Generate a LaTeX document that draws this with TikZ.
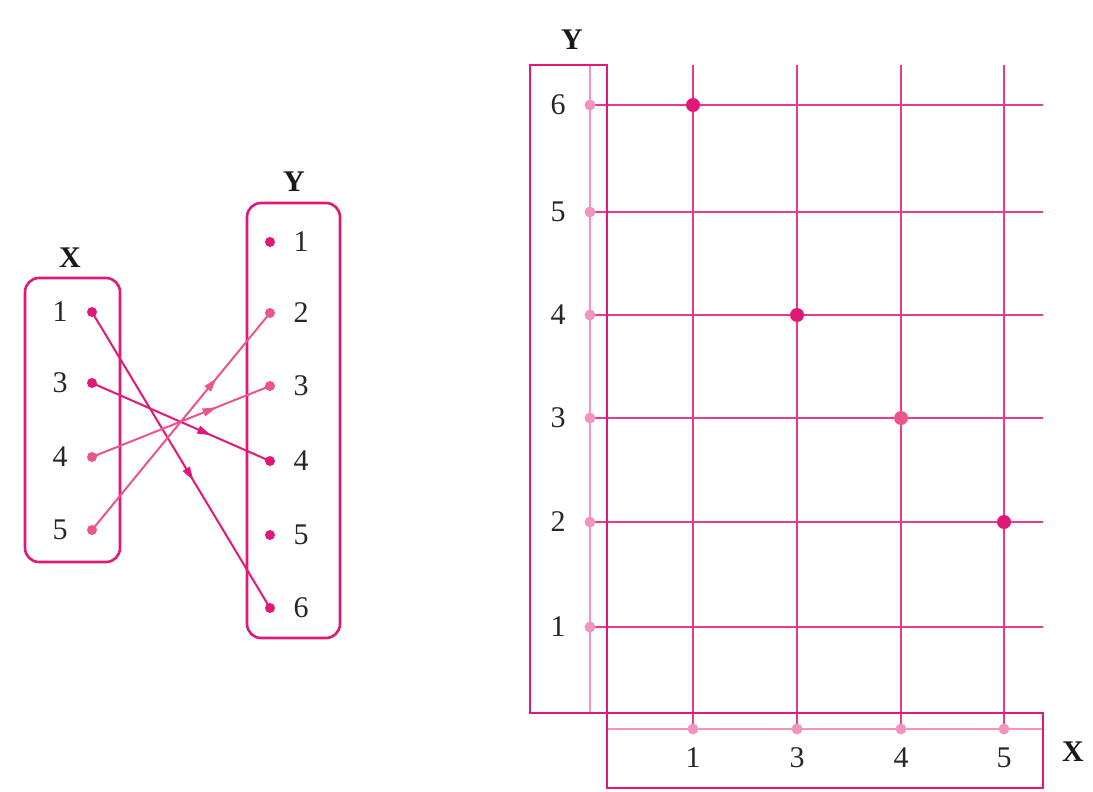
\documentclass[tikz,border=0pt]{standalone}
\usepackage{fontspec}
\setmainfont{Liberation Serif}
\usetikzlibrary{arrows.meta,decorations.markings}
\definecolor{mag}{RGB}{226,24,120}
\definecolor{lmag}{RGB}{236,84,140}
\definecolor{pale}{RGB}{240,150,190}
\begin{document}
\begin{tikzpicture}[x=1pt,y=-1pt,
  lbl/.style={font=\fontsize{30}{32}\selectfont, text=black!85, inner sep=0pt},
  ttl/.style={font=\fontsize{30}{32}\selectfont\bfseries, text=black!90, inner sep=0pt},
  dot/.style={circle, fill=mag, inner sep=0pt, minimum size=10pt},
  ldot/.style={circle, fill=lmag, inner sep=0pt, minimum size=10pt},
  axdot/.style={circle, fill=pale, inner sep=0pt, minimum size=11pt},
  bigdot/.style={circle, fill=mag, inner sep=0pt, minimum size=14pt},
  lbigdot/.style={circle, fill=lmag, inner sep=0pt, minimum size=14pt},
  setbox/.style={draw=mag, line width=2.6pt, rounded corners=14pt, inner sep=0pt},
  sqbox/.style={draw=mag, line width=2.8pt, inner sep=0pt},
  link/.style={line width=2pt},
  midarrow/.style={postaction={decorate}, decoration={markings,
     mark=at position #1 with {\arrow{Triangle[length=14pt,width=8pt]}}}},
  gline/.style={draw=mag!85, line width=1.8pt},
  axline/.style={draw=pale, line width=1.8pt},
]
\useasboundingbox (0,0) rectangle (1093,792);

% ---------------- left: arrow diagram ----------------
\node[setbox, minimum width=95pt, minimum height=284pt] (Xset) at (72.5,420) {};
\node[setbox, minimum width=93pt, minimum height=435pt] (Yset) at (293.5,420.5) {};
\node[ttl] (Xt) at (70,258) {X};
\node[ttl] (Yt) at (294,182) {Y};

\node[lbl] (xl1) at (60,312) {1};
\node[lbl] (xl3) at (60,383) {3};
\node[lbl] (xl4) at (60,457) {4};
\node[lbl] (xl5) at (60,530) {5};
\node[dot]  (x1) at (92,312) {};
\node[dot]  (x3) at (92,383) {};
\node[ldot] (x4) at (92,457) {};
\node[ldot] (x5) at (92,530) {};

\node[dot]  (y1) at (270,242) {};
\node[ldot] (y2) at (270,313) {};
\node[ldot] (y3) at (270,386) {};
\node[dot]  (y4) at (270,461) {};
\node[dot]  (y5) at (270,535) {};
\node[dot]  (y6) at (270,608) {};
\node[lbl] (yl1) at (301,242) {1};
\node[lbl] (yl2) at (301,313) {2};
\node[lbl] (yl3) at (301,386) {3};
\node[lbl] (yl4) at (301,461) {4};
\node[lbl] (yl5) at (301,535) {5};
\node[lbl] (yl6) at (301,608) {6};

\draw[link, mag, midarrow=0.57] (x1.center) -- (y6.center);
\draw[link, mag, midarrow=0.67] (x3.center) -- (y4.center);
\draw[link, lmag, midarrow=0.70] (x4.center) -- (y3.center);
\draw[link, lmag, midarrow=0.70] (x5.center) -- (y2.center);

% ---------------- right: grid ----------------
\node[ttl] (Yt2) at (572,40) {Y};
\node[ttl] (Xt2) at (1073,752) {X};

% inner axis lines
\coordinate (ayTop) at (590,65);
\coordinate (ayBot) at (590,713);
\coordinate (axL) at (607,729);
\coordinate (axR) at (1043,729);
\draw[axline] (ayTop) -- (ayBot);
\draw[axline] (axL) -- (axR);

% horizontal grid lines
\foreach \n/\yy in {6/105,5/212,4/315,3/418,2/522,1/627}{
  \coordinate (ay\n) at (590,\yy);
  \coordinate (ey\n) at (1043,\yy);
  \draw[gline] (ay\n) -- (ey\n);
}
% vertical grid lines
\foreach \n/\xx in {1/693,3/797,4/901,5/1004}{
  \coordinate (ax\n) at (\xx,729);
  \coordinate (ex\n) at (\xx,65);
  \draw[gline] (ex\n) -- (ax\n);
}

% boxes
\node[sqbox, minimum width=77pt, minimum height=648pt] (Ybox) at (568.5,389) {};
\node[sqbox, minimum width=436pt, minimum height=75pt] (Xbox) at (825,750.5) {};

% axis dots
\foreach \n in {6,5,4,3,2,1}{ \node[axdot] (ady\n) at (ay\n) {}; }
\foreach \n in {1,3,4,5}{ \node[axdot] (adx\n) at (ax\n) {}; }

% axis labels
\node[lbl] (ly6) at (558,105) {6};
\node[lbl] (ly5) at (558,212) {5};
\node[lbl] (ly4) at (558,315) {4};
\node[lbl] (ly3) at (558,418) {3};
\node[lbl] (ly2) at (558,522) {2};
\node[lbl] (ly1) at (558,627) {1};
\node[lbl] (lx1) at (693,758) {1};
\node[lbl] (lx3) at (797,758) {3};
\node[lbl] (lx4) at (901,758) {4};
\node[lbl] (lx5) at (1004,758) {5};

% points of the relation
\node[bigdot]  (p16) at (693,105) {};
\node[bigdot]  (p34) at (797,315) {};
\node[lbigdot] (p43) at (901,418) {};
\node[bigdot]  (p52) at (1004,522) {};
\end{tikzpicture}
\end{document}
